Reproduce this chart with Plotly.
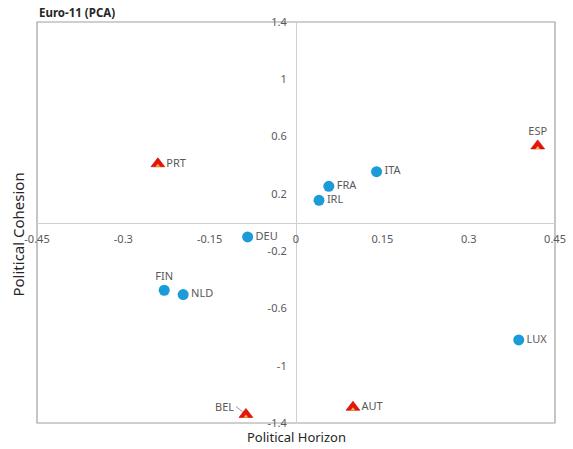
import plotly.graph_objects as go

# Euro-11 principal component scores
circle_countries = ["ITA", "FRA", "IRL", "DEU", "FIN", "NLD", "LUX"]
circle_horizon = [0.140, 0.057, 0.040, -0.084, -0.229, -0.196, 0.387]
circle_cohesion = [0.355, 0.253, 0.155, -0.101, -0.473, -0.503, -0.820]
circle_text_pos = ["middle right", "middle right", "middle right", "middle right",
                   "top center", "middle right", "middle right"]

triangle_countries = ["PRT", "ESP", "AUT", "BEL"]
triangle_horizon = [-0.240, 0.420, 0.099, -0.087]
triangle_cohesion = [0.410, 0.535, -1.290, -1.340]
triangle_text_pos = ["middle right", "top center", "middle right", "middle right"]

x_ticks = [-0.45, -0.3, -0.15, 0, 0.15, 0.3, 0.45]
x_tick_text = ["-0.45", "-0.3", "-0.15", "0", "0.15", "0.3", "0.45"]
y_ticks = [-1.4, -1.0, -0.6, -0.2, 0.2, 0.6, 1.0, 1.4]
y_tick_text = ["-1.4", "-1", "-0.6", "-0.2", "0.2", "0.6", "1", "1.4"]

FONT = "Noto Sans"
LABEL_GREY = "#595959"

fig = go.Figure()

fig.add_trace(go.Scatter(
    x=circle_horizon, y=circle_cohesion, mode="markers+text",
    text=circle_countries, textposition=circle_text_pos,
    textfont=dict(family=FONT, size=11, color=LABEL_GREY),
    marker=dict(symbol="circle", size=11, color="#1B9BD8"),
    hoverinfo="text", showlegend=False,
))

# BEL gets a leader-line label instead of inline text
tri_text = [c if c != "BEL" else "" for c in triangle_countries]
fig.add_trace(go.Scatter(
    x=triangle_horizon, y=triangle_cohesion, mode="markers+text",
    text=tri_text, textposition=triangle_text_pos,
    textfont=dict(family=FONT, size=11, color=LABEL_GREY),
    marker=dict(symbol="triangle-up", size=12, color="#E8140C",
                line=dict(color="#C00000", width=0.6)),
    hoverinfo="text", showlegend=False,
))
fig.add_trace(go.Scatter(
    x=triangle_horizon, y=[v - 0.014 for v in triangle_cohesion], mode="markers",
    marker=dict(symbol="triangle-up", size=4, color="#F7B733"),
    hoverinfo="skip", showlegend=False,
))

bel_i = triangle_countries.index("BEL")
fig.add_annotation(
    x=triangle_horizon[bel_i], y=triangle_cohesion[bel_i],
    text="BEL", showarrow=True, arrowhead=0, arrowwidth=0.8,
    arrowcolor="#7F7F7F", ax=-10, ay=-8, standoff=4,
    xanchor="right", font=dict(family=FONT, size=11, color=LABEL_GREY),
)

# Plot frame
fig.add_shape(type="rect", xref="paper", yref="paper", x0=0, y0=0, x1=1, y1=1,
              line=dict(color="#A0A0A0", width=1.2), layer="below")

fig.add_annotation(x=0, y=1, xref="paper", yref="paper", xanchor="left",
                   yanchor="bottom", yshift=0, showarrow=False,
                   text="<b>Euro-11 (PCA)</b>",
                   font=dict(family=FONT, size=11.5, color="#262626"))
fig.add_annotation(x=0.5, y=0, xref="paper", yref="paper", xanchor="center",
                   yanchor="middle", yshift=-14, showarrow=False,
                   text="Political Horizon",
                   font=dict(family=FONT, size=13, color="#262626"))
fig.add_annotation(x=0, y=0.47, xref="paper", yref="paper", xanchor="center",
                   yanchor="middle", xshift=-19, showarrow=False, textangle=-90,
                   text="Political Cohesion",
                   font=dict(family=FONT, size=15, color="#262626"))

fig.update_layout(
    width=573, height=449,
    margin=dict(l=37, r=18, t=22, b=26),
    paper_bgcolor="white", plot_bgcolor="white",
    xaxis=dict(range=[-0.45, 0.45], anchor="free", position=0.5,
               tickvals=x_ticks, ticktext=x_tick_text,
               showgrid=False, zeroline=False, showline=True,
               linecolor="#D0D0D0", linewidth=1.2,
               ticks="outside", ticklen=6, tickcolor="rgba(0,0,0,0)",
               tickfont=dict(family=FONT, size=11, color=LABEL_GREY),
               automargin=False, layer="below traces"),
    yaxis=dict(range=[-1.4, 1.4], anchor="free", position=0.5,
               tickvals=y_ticks, ticktext=y_tick_text,
               showgrid=False, zeroline=False, showline=True,
               linecolor="#D0D0D0", linewidth=1.2,
               ticks="outside", ticklen=7, tickcolor="rgba(0,0,0,0)",
               tickfont=dict(family=FONT, size=11, color=LABEL_GREY),
               automargin=False, layer="below traces"),
)

fig.write_html("out.html")
